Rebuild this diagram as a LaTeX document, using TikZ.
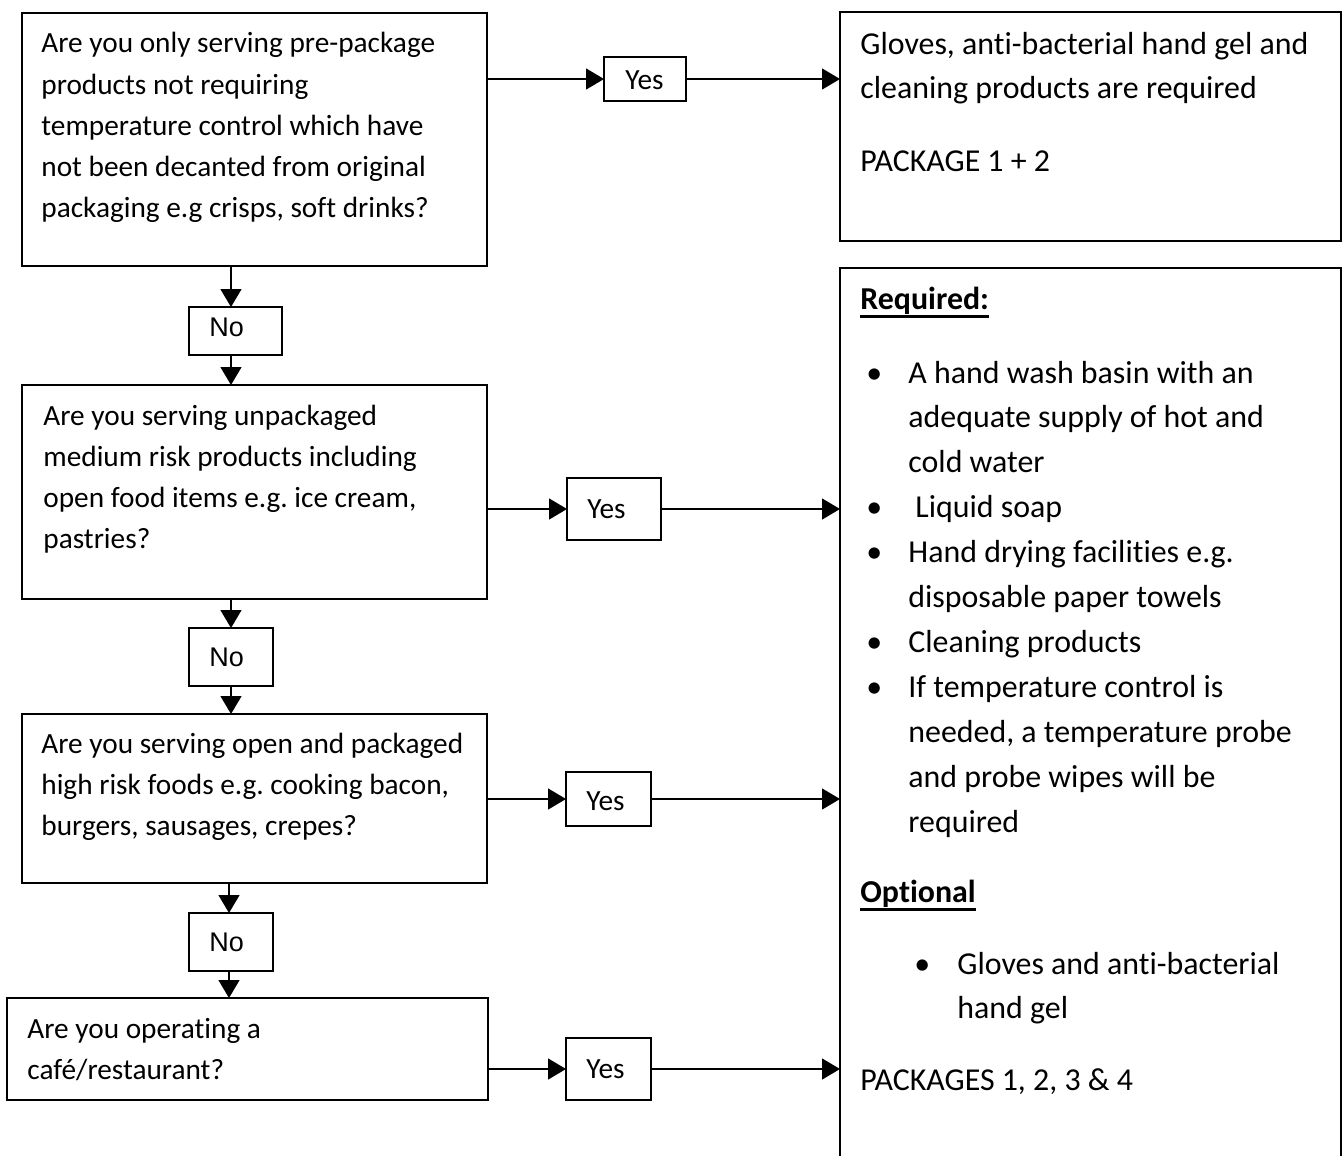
\documentclass[tikz,border=0pt]{standalone}
\usepackage{fontspec}
\setmainfont{Carlito}[Ligatures={NoCommon,NoContextual}]
\newfontfamily\nofont{Liberation Sans}
\usetikzlibrary{arrows.meta}
\frenchspacing
\begin{document}
\begin{tikzpicture}[x=0.5pt,y=-0.5pt,
  box/.style={draw,line width=0.7pt,anchor=north west,inner sep=0,outer sep=0},
  lt/.style={anchor=base west,inner sep=0,font=\fontsize{14.65}{17}\selectfont},
  rt/.style={anchor=base west,inner sep=0,font=\fontsize{15.95}{19}\selectfont},
  lbl/.style={anchor=west,inner sep=0,font=\fontsize{14.65}{17}\selectfont},
  nolbl/.style={anchor=west,inner sep=0,font=\nofont\fontsize{13.5}{16}\selectfont},
  arr/.style={line width=0.7pt,-{Triangle[length=9pt,width=10.5pt]}},
  uline/.style={line width=1.5pt}]
\useasboundingbox (0,0) rectangle (1344,1156);

% question boxes
\node[box,minimum width=232.5pt,minimum height=126.5pt] (q1) at (22,13) {};
\node[box,minimum width=232.5pt,minimum height=107pt] (q2) at (22,385) {};
\node[box,minimum width=232.5pt,minimum height=84.5pt] (q3) at (22,714) {};
\node[box,minimum width=240.5pt,minimum height=51pt] (q4) at (7,998) {};

% yes boxes
\node[box,minimum width=41pt,minimum height=22pt] (y1) at (604,57) {};
\node[box,minimum width=47pt,minimum height=31pt] (y2) at (567,478) {};
\node[box,minimum width=42.5pt,minimum height=27pt] (y3) at (566,772) {};
\node[box,minimum width=42.5pt,minimum height=31pt] (y4) at (566,1038) {};

% no boxes
\node[box,minimum width=46.5pt,minimum height=24pt] (n1) at (189,307) {};
\node[box,minimum width=42pt,minimum height=29pt] (n2) at (189,628) {};
\node[box,minimum width=42pt,minimum height=29pt] (n3) at (189,913) {};

% answer boxes
\node[box,minimum width=250.5pt,minimum height=114.5pt] (r1) at (840,12) {};
\node[anchor=north west,inner sep=0,outer sep=0,minimum width=250.5pt,minimum height=444pt] (big) at (840,268) {};
\draw[line width=0.7pt] (big.south west) -- (big.north west) -- (big.north east) -- (big.south east);

% labels
\node[lbl] (y1t) at ([xshift=10.5pt,yshift=-0.5pt]y1.west) {Yes};
\node[lbl] (y2t) at ([xshift=10pt]y2.west) {Yes};
\node[lbl] (y3t) at ([xshift=10pt,yshift=-1pt]y3.west) {Yes};
\node[lbl] (y4t) at ([xshift=10pt]y4.west) {Yes};
\node[nolbl] (n1t) at ([xshift=10pt,yshift=2pt]n1.west) {No};
\node[nolbl] (n2t) at ([xshift=10pt,yshift=0pt]n2.west) {No};
\node[nolbl] (n3t) at ([xshift=10pt,yshift=0pt]n3.west) {No};

% question texts
\foreach \s [count=\i] in {Are you only serving pre-package,products not requiring,temperature control which have,not been decanted from original,{packaging e.g crisps, soft drinks?}}
  \node[lt] (q1t\i) at (41,{53+41.2*(\i-1)}) {\s};
\foreach \s [count=\i] in {Are you serving unpackaged,medium risk products including,{open food items e.g. ice cream,},pastries?}
  \node[lt] (q2t\i) at (43,{425+41*(\i-1)}) {\s};
\foreach \s [count=\i] in {Are you serving open and packaged,{high risk foods e.g. cooking bacon,},{burgers, sausages, crepes?}}
  \node[lt] (q3t\i) at (41,{753+41.3*(\i-1)}) {\s};
\foreach \s [count=\i] in {Are you operating a,café/restaurant?}
  \node[lt] (q4t\i) at (27,{1038+41*(\i-1)}) {\s};

% answer 1
\node[rt] (r1t1) at (860,55) {Gloves, anti-bacterial hand gel and};
\node[rt] (r1t2) at (860,99) {cleaning products are required};
\node[rt] (r1t3) at (860,171) {PACKAGE 1 + 2};

% answer 2
\node[rt] (req) at (860,309) {\textbf{Required:}};
\draw[uline] ([yshift=-3.5pt]req.base west) -- ([yshift=-3.5pt]req.base east);
\foreach \s/\xx [count=\i] in {A hand wash basin with an/908,adequate supply of hot and/908,cold water/908,Liquid soap/915,Hand drying facilities e.g./908,disposable paper towels/908,Cleaning products/908,If temperature control is/908,{needed, a temperature probe}/908,and probe wipes will be/908,required/908}
  \node[rt] (bl\i) at (\xx,{383+44.9*(\i-1)}) {\s};
\foreach \i in {1,4,5,7,8}
  \node[rt] (bu\i) at (866,{383+44.9*(\i-1)}) {•};
\node[rt] (opt) at (860,902) {\textbf{Optional}};
\draw[uline] ([yshift=-3.5pt]opt.base west) -- ([yshift=-3.5pt]opt.base east);
\node[rt] (bu12) at (914,974) {•};
\node[rt] (ol1) at (957,974) {Gloves and anti-bacterial};
\node[rt] (ol2) at (957,1018) {hand gel};
\node[rt] (pk) at (860,1090) {PACKAGES 1, 2, 3 \& 4};

% horizontal connectors
\draw[arr] (q1.east |- y1.west) -- (y1.west);
\draw[arr] (y1.east) -- (y1.east -| r1.west);
\draw[arr] (q2.east |- y2.west) -- (y2.west);
\draw[arr] (y2.east) -- (y2.east -| big.west);
\draw[arr] (q3.east |- y3.west) -- (y3.west);
\draw[arr] (y3.east) -- (y3.east -| big.west);
\draw[arr] (q4.east |- y4.west) -- (y4.west);
\draw[arr] (y4.east) -- (y4.east -| big.west);

% vertical connectors
\coordinate (a1) at ([xshift=-2.25pt]n1.north);
\coordinate (b1) at ([xshift=-2.25pt]n1.south);
\draw[arr] (a1 |- q1.south) -- (a1);
\draw[arr] (b1) -- (b1 |- q2.north);
\draw[arr] (n2.north |- q2.south) -- (n2.north);
\draw[arr] (n2.south) -- (n2.south |- q3.north);
\coordinate (a3) at ([xshift=-1pt]n3.north);
\coordinate (b3) at ([xshift=-1pt]n3.south);
\draw[arr] (a3 |- q3.south) -- (a3);
\draw[arr] (b3) -- (b3 |- q4.north);
\end{tikzpicture}
\end{document}
